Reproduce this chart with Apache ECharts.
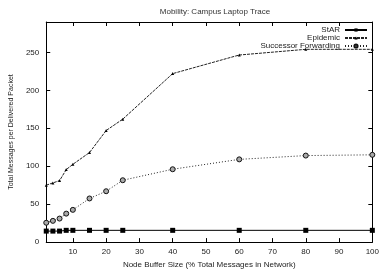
<!DOCTYPE html>
<html>
<head>
<meta charset="utf-8">
<script src="https://cdn.jsdelivr.net/npm/echarts@6/dist/echarts.min.js"></script>
<style>
  html, body { margin: 0; padding: 0; background: #fff; }
  #chart { width: 382px; height: 274px; }
</style>
</head>
<body>
<div id="chart"></div>
<script>
// buffer sizes (% of total messages)
const bufferSizes = [2, 4, 6, 8, 10, 15, 20, 25, 40, 60, 80, 100];
const starVals = [14.5, 14.5, 14.5, 15.5, 15.5, 15.5, 15.5, 15.5, 15.5, 15.5, 15.5, 15.5];
const epidemicVals = [75, 78, 81, 95.5, 102.5, 118, 147, 162, 222, 246.5, 254, 254];
const successorVals = [25.5, 28, 31, 37.5, 42.5, 57.5, 67, 81.5, 96, 109, 114, 115];
const xTicks = [10, 20, 30, 40, 50, 60, 70, 80, 90, 100];
const yTicks = [0, 50, 100, 150, 200, 250];

const pairs = vals => bufferSizes.map((x, i) => [x, vals[i]]);

const font = 'Liberation Sans';
const chart = echarts.init(document.getElementById('chart'));

const line = { onZero: false, lineStyle: { color: '#000', width: 1 } };
const tick = { inside: true, length: 4, lineStyle: { color: '#000' } };
const xTick = Object.assign({ customValues: xTicks }, tick);
const yTick = Object.assign({ customValues: yTicks }, tick);

chart.setOption({
  animation: false,
  title: {
    text: 'Mobility: Campus Laptop Trace',
    left: 210, top: 3, textAlign: 'center',
    textStyle: { fontFamily: font, fontSize: 8, fontWeight: 'normal', color: '#333' }
  },
  legend: {
    right: 14, top: 26, orient: 'vertical', align: 'right',
    itemWidth: 22, itemHeight: 4, itemGap: 0, padding: 0,
    textStyle: { fontFamily: font, fontSize: 8, lineHeight: 8, color: '#222' },
    data: ['StAR', 'Epidemic', 'Successor Forwarding']
  },
  grid: { left: 43, right: 5, top: 22, bottom: 28 },
  xAxis: [
    {
      type: 'value', min: 2, max: 100,
      name: 'Node Buffer Size (% Total Messages in Network)',
      nameLocation: 'middle', nameGap: 18,
      nameTextStyle: { fontFamily: font, fontSize: 8, color: '#222' },
      axisLine: line, axisTick: xTick, splitLine: { show: false },
      axisLabel: { fontFamily: font, fontSize: 8, color: '#222', margin: 6, customValues: xTicks }
    },
    {
      type: 'value', min: 2, max: 100, position: 'top',
      axisLine: line, axisTick: xTick, splitLine: { show: false },
      axisLabel: { show: false }
    }
  ],
  yAxis: [
    {
      type: 'value', min: 0, max: 290,
      name: 'Total Messages per Delivered Packet',
      nameLocation: 'middle', nameGap: 29,
      nameTextStyle: { fontFamily: font, fontSize: 7, color: '#222' },
      axisLine: line, axisTick: yTick, splitLine: { show: false },
      axisLabel: { fontFamily: font, fontSize: 8, color: '#222', margin: 7, customValues: yTicks }
    },
    {
      type: 'value', min: 0, max: 290, position: 'right',
      axisLine: line, axisTick: yTick, splitLine: { show: false },
      axisLabel: { show: false }
    }
  ],
  series: [
    {
      name: 'StAR', type: 'line', data: pairs(starVals),
      symbol: 'rect', symbolSize: 5,
      lineStyle: { color: '#000', width: 1 },
      itemStyle: { color: '#000' }
    },
    {
      name: 'Epidemic', type: 'line', data: pairs(epidemicVals),
      symbol: 'triangle', symbolSize: 3,
      lineStyle: { color: '#222', width: 1, type: [3, 1] },
      itemStyle: { color: '#000' }
    },
    {
      name: 'Successor Forwarding', type: 'line', data: pairs(successorVals),
      symbol: 'circle', symbolSize: 5,
      lineStyle: { color: '#222', width: 1, type: [1, 2] },
      itemStyle: { color: '#aaa', borderColor: '#111', borderWidth: 1 }
    }
  ]
});
</script>
</body>
</html>
